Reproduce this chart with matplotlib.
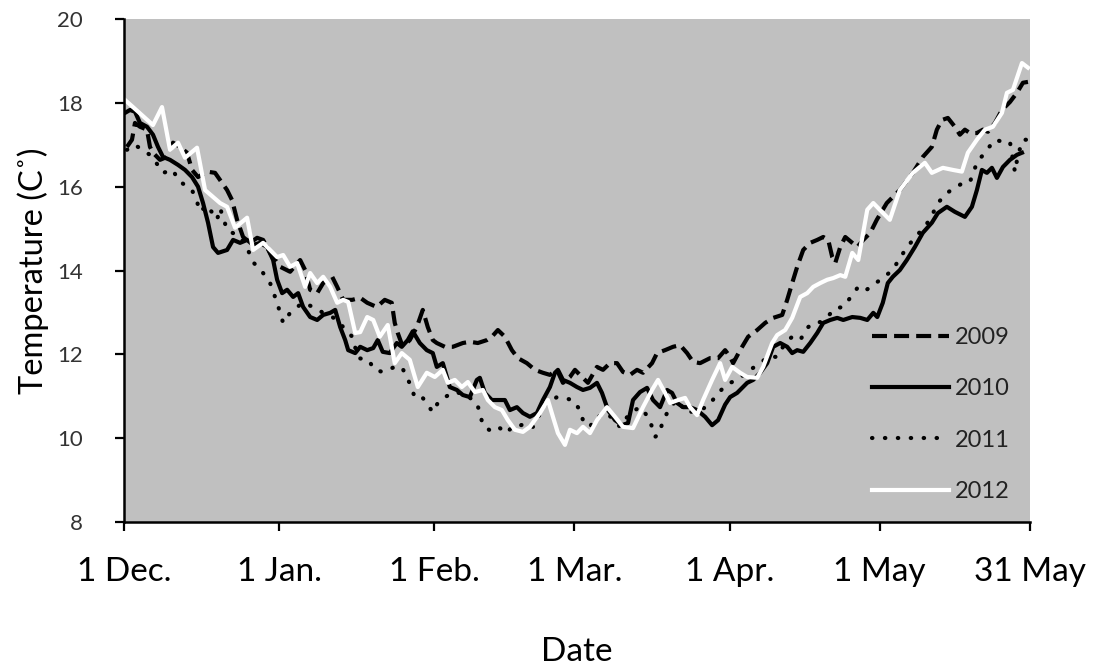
import matplotlib
matplotlib.use("Agg")
import matplotlib.pyplot as plt

plt.rcParams["font.family"] = ["Lato", "DejaVu Sans"]

# days since 1 December
tick_days = [0, 31, 62, 90, 121, 151, 181]
tick_labels = ["1 Dec.", "1 Jan.", "1 Feb.", "1 Mar.", "1 Apr.", "1 May", "31 May"]

days_2009 = [0.6, 1.6, 2.2, 3.2, 4.6, 5.2, 5.8, 7.2, 8.6, 9.8, 11.2, 12.6, 13.6, 14.8, 16.6, 18.2,
             19.2, 20.6, 21.6, 22.6, 23.8, 25.2, 26.6, 27.8, 29.2, 31.2, 33.2, 35.2, 36.2, 37.2,
             38.6, 39.8, 41.6, 42.6, 43.8, 45.6, 47.2, 48.6, 50.5, 52.1, 53.5, 54.1, 54.7, 55.7,
             57.1, 58.5, 59.7, 60.7, 61.7, 62.5, 64.1, 65.7, 67.7, 69.1, 70.7, 72.5, 73.5, 74.7,
             76.1, 77.5, 78.7, 80.5, 82.1, 83.7, 85.1, 86.5, 87.7, 89.1, 90.1, 91.5, 92.7, 94.5,
             95.7, 97.1, 98.5, 99.7, 101.1, 102.5, 103.7, 105.5, 106.5, 108.1, 109.7, 111.1,
             112.5, 113.7, 115.1, 117.1, 118.7, 120.1, 121.1, 121.7, 123.1, 124.7, 126.5, 128.1,
             129.7, 131.5, 132.5, 133.5, 134.5, 135.7, 137.1, 138.5, 139.7, 140.7, 141.5, 142.1,
             143.1, 144.1, 145.5, 146.5, 147.7, 149.1, 150.4, 152.4, 155.0, 157.6, 159.6, 161.4,
             162.4, 163.4, 164.6, 166.0, 167.0, 168.0, 169.0, 170.4, 171.6, 172.6, 174.0, 175.4,
             177.0, 178.4, 179.6, 180.6]
temp_2009 = [16.95, 17.12, 17.52, 17.43, 17.36, 16.95, 16.81, 16.64, 16.71, 17.05, 16.95, 16.81,
             16.40, 16.23, 16.36, 16.33, 16.16, 15.92, 15.68, 15.21, 14.80, 14.66, 14.78, 14.73,
             14.42, 14.09, 13.97, 14.25, 14.01, 13.54, 13.46, 13.70, 13.85, 13.61, 13.30, 13.30,
             13.35, 13.23, 13.13, 13.30, 13.23, 12.75, 12.51, 12.18, 12.34, 12.65, 13.06, 12.65,
             12.34, 12.27, 12.18, 12.18, 12.27, 12.30, 12.27, 12.34, 12.42, 12.58, 12.42, 12.10,
             11.91, 11.79, 11.63, 11.56, 11.51, 11.63, 11.32, 11.46, 11.63, 11.46, 11.32, 11.70,
             11.63, 11.79, 11.79, 11.58, 11.51, 11.63, 11.56, 11.79, 12.03, 12.10, 12.18, 12.22,
             12.03, 11.82, 11.79, 11.91, 11.91, 12.10, 11.94, 11.79, 12.10, 12.42, 12.58, 12.75,
             12.87, 12.94, 13.30, 13.70, 14.09, 14.49, 14.66, 14.73, 14.80, 14.73, 14.32, 14.18,
             14.56, 14.80, 14.66, 14.56, 14.73, 14.90, 15.21, 15.61, 15.92, 16.33, 16.71, 16.95,
             17.36, 17.59, 17.64, 17.43, 17.24, 17.36, 17.28, 17.28, 17.36, 17.31, 17.52, 17.83,
             18.02, 18.24, 18.48, 18.50]

days_2010 = [0.2, 1.2, 2.2, 3.2, 4.6, 5.8, 6.8, 7.8, 9.2, 10.8, 12.2, 13.6, 14.8, 15.8, 16.8, 17.8,
             18.8, 20.6, 21.8, 23.2, 24.6, 25.8, 27.2, 28.6, 29.8, 30.6, 31.6, 32.6, 33.8, 34.8,
             35.8, 37.2, 38.6, 39.8, 41.2, 42.2, 43.2, 44.2, 44.8, 46.2, 47.2, 48.6, 49.8, 50.7,
             51.7, 53.1, 54.5, 55.5, 56.7, 57.7, 59.1, 60.5, 61.7, 62.5, 63.7, 65.1, 66.5, 67.7,
             69.1, 70.5, 71.1, 72.1, 73.5, 75.1, 76.1, 77.1, 78.5, 79.7, 81.1, 82.5, 83.7, 85.1,
             86.1, 86.7, 87.7, 89.1, 90.5, 91.7, 93.1, 94.5, 95.5, 96.7, 98.1, 99.5, 100.7, 101.7,
             103.1, 104.5, 105.7, 107.1, 108.5, 109.5, 110.5, 111.7, 113.1, 114.5, 116.1, 117.5,
             118.7, 120.1, 121.1, 122.5, 124.5, 125.7, 127.1, 128.5, 129.7, 131.1, 132.5, 133.5,
             134.5, 135.7, 137.1, 138.5, 139.7, 141.1, 142.5, 143.7, 145.5, 147.1, 148.5, 149.7,
             150.5, 151.6, 152.6, 153.6, 155.0, 156.4, 158.0, 159.6, 161.4, 162.6, 164.4, 166.0,
             168.0, 169.4, 170.4, 171.4, 172.4, 173.4, 174.4, 175.6, 177.0, 178.4, 179.4]
temp_2010 = [17.76, 17.83, 17.79, 17.52, 17.43, 17.24, 16.95, 16.71, 16.64, 16.52, 16.40, 16.23,
             16.00, 15.61, 15.14, 14.56, 14.42, 14.49, 14.73, 14.66, 14.73, 14.61, 14.66, 14.56,
             14.25, 13.78, 13.46, 13.54, 13.37, 13.46, 13.13, 12.89, 12.82, 12.94, 12.99, 13.06,
             12.65, 12.34, 12.10, 12.03, 12.18, 12.10, 12.15, 12.34, 12.06, 12.03, 12.27, 12.18,
             12.34, 12.55, 12.27, 12.10, 12.03, 11.70, 11.79, 11.22, 11.15, 11.03, 10.98, 11.39,
             11.44, 11.08, 10.91, 10.91, 10.91, 10.67, 10.74, 10.60, 10.51, 10.60, 10.91, 11.22,
             11.56, 11.63, 11.39, 11.32, 11.22, 11.15, 11.20, 11.32, 11.08, 10.67, 10.43, 10.31,
             10.36, 10.91, 11.10, 11.20, 10.91, 10.74, 11.15, 11.08, 10.84, 10.74, 10.74, 10.67,
             10.51, 10.31, 10.43, 10.80, 10.98, 11.08, 11.32, 11.39, 11.56, 11.79, 12.18, 12.27,
             12.18, 12.03, 12.10, 12.06, 12.27, 12.51, 12.75, 12.82, 12.87, 12.82, 12.89, 12.87,
             12.82, 12.99, 12.89, 13.23, 13.70, 13.85, 14.01, 14.25, 14.56, 14.90, 15.14, 15.37,
             15.52, 15.40, 15.28, 15.52, 15.92, 16.40, 16.33, 16.45, 16.21, 16.47, 16.64, 16.76,
             16.81]

days_2011 = [0.6, 2.2, 3.6, 5.2, 7.2, 7.8, 9.8, 10.8, 12.6, 13.6, 14.6, 15.2, 16.6, 18.6, 19.2,
             20.6, 23.2, 24.6, 25.8, 27.8, 29.2, 30.6, 31.2, 31.8, 33.2, 34.6, 35.8, 37.8, 39.8,
             41.6, 42.6, 43.8, 45.6, 46.8, 48.8, 50.1, 51.7, 53.7, 55.5, 56.5, 57.5, 58.1, 59.7,
             60.7, 61.7, 62.7, 64.1, 66.1, 68.1, 70.5, 71.1, 71.7, 73.5, 75.1, 76.5, 77.5, 79.1,
             80.5, 81.7, 84.1, 86.5, 87.7, 89.7, 91.1, 91.7, 93.1, 94.1, 96.5, 99.1, 101.1, 103.1,
             104.7, 105.5, 106.1, 107.1, 107.5, 108.5, 109.1, 110.5, 112.5, 114.5, 116.5, 118.1,
             119.7, 121.1, 122.5, 125.1, 127.1, 128.7, 130.5, 132.1, 133.5, 135.1, 136.5, 137.7,
             139.1, 140.5, 142.1, 143.7, 145.1, 146.5, 147.7, 149.1, 151.1, 153.6, 155.0, 156.4,
             157.6, 159.4, 161.0, 162.6, 164.4, 166.0, 167.6, 169.0, 170.4, 172.4, 174.0, 175.6,
             177.0, 178.0, 178.6, 179.6, 180.6]
temp_2011 = [16.88, 17.00, 16.88, 16.76, 16.45, 16.33, 16.40, 16.16, 16.00, 15.92, 15.64, 15.40,
             15.56, 15.21, 15.49, 14.97, 14.80, 14.54, 14.20, 13.94, 13.70, 13.23, 12.99, 12.75,
             12.99, 13.13, 13.23, 13.13, 12.99, 12.89, 12.82, 12.65, 12.42, 11.91, 11.87, 11.63,
             11.58, 11.68, 11.70, 11.46, 11.20, 10.96, 10.96, 10.79, 10.62, 10.84, 10.98, 11.10,
             11.05, 10.84, 10.60, 10.31, 10.15, 10.24, 10.12, 10.27, 10.30, 10.36, 10.27, 10.80,
             10.98, 10.96, 10.91, 10.67, 10.43, 10.27, 10.48, 10.60, 10.27, 10.60, 10.74, 10.51,
             10.27, 10.03, 10.12, 10.36, 10.60, 10.74, 10.91, 10.60, 10.67, 10.74, 10.98, 11.20,
             11.32, 11.39, 11.63, 11.79, 11.94, 11.94, 12.27, 12.42, 12.34, 12.63, 12.75, 12.77,
             12.89, 13.10, 13.13, 13.35, 13.58, 13.49, 13.60, 13.78, 14.01, 14.30, 14.54, 14.73,
             14.97, 15.21, 15.61, 15.85, 15.97, 16.09, 16.11, 16.57, 16.88, 17.12, 17.07, 17.07,
             16.35, 16.76, 17.12, 17.12]

days_2012 = [0.2, 1.8, 5.8, 7.6, 9.2, 10.8, 12.2, 14.6, 16.2, 19.2, 20.6, 22.2, 24.6, 25.8, 27.8,
             30.6, 31.8, 33.2, 34.6, 36.2, 37.2, 38.6, 39.8, 41.2, 42.6, 43.8, 44.8, 46.2, 47.2,
             48.6, 49.8, 51.1, 52.7, 54.1, 55.5, 57.1, 58.7, 60.5, 62.1, 63.7, 64.7, 66.1, 67.5,
             68.7, 70.1, 71.7, 72.7, 74.1, 75.5, 76.7, 78.1, 79.7, 81.1, 83.1, 84.7, 85.7, 86.7,
             88.1, 89.1, 90.5, 91.7, 93.1, 94.5, 96.5, 98.1, 99.7, 101.7, 103.7, 105.5, 106.7,
             108.1, 109.1, 110.7, 112.1, 113.1, 114.5, 115.7, 117.5, 119.1, 120.1, 121.5, 123.1,
             124.5, 126.5, 127.7, 129.5, 130.5, 132.1, 133.5, 135.1, 136.5, 137.7, 139.1, 140.5,
             141.7, 143.1, 144.1, 145.5, 146.7, 148.5, 149.7, 151.0, 153.0, 155.0, 157.6, 160.0,
             161.4, 163.6, 165.6, 167.4, 168.6, 170.4, 172.0, 173.6, 175.4, 176.4, 177.6, 179.4,
             180.6]
temp_2012 = [18.07, 17.90, 17.47, 17.90, 16.88, 17.05, 16.69, 16.93, 15.92, 15.61, 15.52, 15.02,
             15.26, 14.49, 14.66, 14.32, 14.37, 14.09, 14.18, 13.61, 13.94, 13.70, 13.85, 13.61,
             13.23, 13.30, 13.25, 12.51, 12.53, 12.89, 12.82, 12.42, 12.70, 11.79, 12.03, 11.87,
             11.22, 11.56, 11.46, 11.63, 11.32, 11.39, 11.22, 11.34, 11.10, 11.15, 10.91, 10.74,
             10.67, 10.43, 10.20, 10.15, 10.27, 10.60, 10.91, 10.51, 10.12, 9.84, 10.20, 10.12,
             10.27, 10.12, 10.43, 10.74, 10.51, 10.27, 10.24, 10.74, 11.15, 11.39, 11.08, 10.84,
             10.91, 10.96, 10.74, 10.55, 10.91, 11.39, 11.79, 11.39, 11.70, 11.56, 11.46, 11.44,
             11.70, 12.27, 12.46, 12.58, 12.87, 13.37, 13.46, 13.61, 13.70, 13.78, 13.82, 13.89,
             13.85, 14.42, 14.25, 15.45, 15.61, 15.45, 15.21, 15.92, 16.33, 16.57, 16.33, 16.45,
             16.40, 16.36, 16.81, 17.12, 17.36, 17.43, 17.76, 18.24, 18.31, 18.95, 18.84]

fig = plt.figure(figsize=(10.95, 6.70), dpi=100)
ax = fig.add_axes([0.1132, 0.2209, 0.8274, 0.7507])
ax.set_facecolor("#c0c0c0")

lw = 3.0
ax.plot(days_2009, temp_2009, color="black", lw=lw, linestyle=(0, (3.6, 1.7)), label="2009")
ax.plot(days_2010, temp_2010, color="black", lw=lw, label="2010")
ax.plot(days_2011, temp_2011, color="black", lw=lw, linestyle=(0, (0.1, 3.0)),
        dash_capstyle="round", label="2011")
ax.plot(days_2012, temp_2012, color="white", lw=lw, label="2012")

ax.set_xlim(0, 181)
ax.set_ylim(8, 20)
ax.set_yticks(range(8, 21, 2))
ax.set_xticks(tick_days)
ax.set_xticklabels(tick_labels)

for side in ("top", "right"):
    ax.spines[side].set_visible(False)
for side in ("left", "bottom"):
    ax.spines[side].set_linewidth(1.8)
ax.tick_params(axis="both", direction="out", length=6.5, width=1.6, color="black")
ax.tick_params(axis="x", labelsize=24, pad=19)
ax.tick_params(axis="y", labelsize=16, pad=23, labelcolor="#333333")

ax.set_xlabel("Date", fontsize=24, labelpad=36)
ax.set_ylabel("Temperature (C˚)", fontsize=23.5, labelpad=6)

ax.legend(loc="upper left", bbox_to_anchor=(0.8256, 0.388), frameon=False, fontsize=17,
          handlelength=3.26, handletextpad=0.25, labelspacing=1.29, borderpad=0,
          borderaxespad=0, labelcolor="#222222")

fig.savefig("out.png", dpi=100)
